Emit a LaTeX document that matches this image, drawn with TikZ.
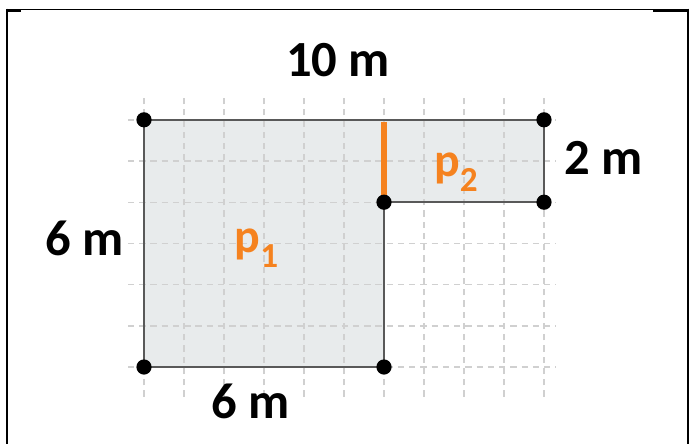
\documentclass[tikz,border=0pt]{standalone}
\usepackage{fontspec}
\setmainfont{Carlito}
\definecolor{pcol}{HTML}{F5821F}
\definecolor{areafill}{HTML}{E8EBEC}
\definecolor{edgecol}{HTML}{595959}
\definecolor{gridcol}{HTML}{D0D0D0}
\begin{document}
\begin{tikzpicture}[x=1cm,y=1.03cm,
  dot/.style={circle,fill=black,inner sep=0pt,minimum size=0.38cm},
  dim/.style={font=\fontsize{36}{36}\selectfont\bfseries},
  part/.style={text=pcol,font=\fontsize{34}{34}\selectfont\bfseries},
  gridline/.style={gridcol,line width=1pt,dash pattern=on 4.5pt off 3.5pt}]
\useasboundingbox (-3.6,-1.845) rectangle (13.725,8.908);

% frame
\draw[line width=0.8pt] (-3.425,8.677) -- (13.6,8.677);
\draw[line width=1.6pt] (-3.425,8.655) -- (-3.075,8.655);
\draw[line width=1.6pt] (12.725,8.655) -- (13.6,8.655);
\draw[line width=2pt] (-3.425,8.7) -- (-3.425,-1.9);
\draw[line width=2pt] (13.6,8.7) -- (13.6,-1.9);

\coordinate (a) at (0,0);
\coordinate (b) at (0,6);
\coordinate (c) at (10,6);
\coordinate (d) at (10,4);
\coordinate (e) at (6,4);
\coordinate (f) at (6,0);
\coordinate (g) at (6,6);

\fill[areafill] (a) -- (b) -- (c) -- (d) -- (e) -- (f) -- cycle;
\foreach \x in {0,...,10}
  \draw[gridline] (\x,-0.72) -- (\x,6.55);
\foreach \y in {0,...,6}
  \draw[gridline] (-0.4,\y) -- (10.3,\y);
\draw[edgecol,line width=1.2pt] (a) -- (b) -- (c) -- (d) -- (e) -- (f) -- cycle;

% shared side
\draw[pcol,line width=3.6pt] ([yshift=-1.5pt]g) -- (e);

\foreach \p in {a,b,c,d,e,f}
  \node[dot] (dot\p) at (\p) {};

\node[dim] (top) at (4.85,7.45) {10 m};
\node[dim] (right) at (11.5,5.07) {2 m};
\node[dim] (left) at (-1.475,3.13) {6 m};
\node[dim] (bottom) at (2.675,-0.825) {6 m};

\node[part] (p1) at (2.81,2.88) {p\raisebox{-11pt}{\fontsize{25}{25}\selectfont 1}};
\node[part] (p2) at (7.8,4.73) {p\raisebox{-11pt}{\fontsize{25}{25}\selectfont 2}};
\end{tikzpicture}
\end{document}
